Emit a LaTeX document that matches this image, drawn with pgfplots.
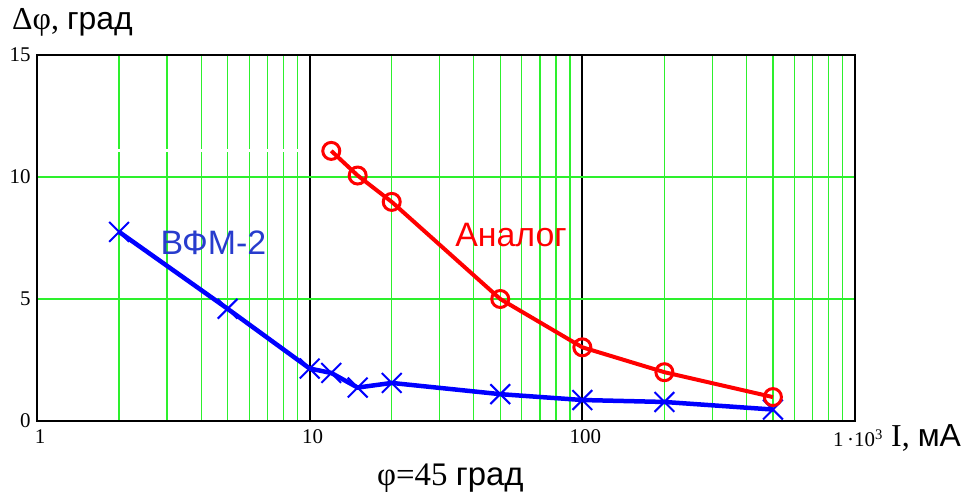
\documentclass[border=0pt]{standalone}
\usepackage{fontspec}
\setmainfont{Liberation Serif}
\newfontfamily\arial{Liberation Sans}
\usepackage{pgfplots}
\pgfplotsset{compat=1.18}
\definecolor{gridgreen}{RGB}{45,240,45}
\definecolor{labblue}{RGB}{40,60,205}
\newcommand{\tf}{\fontsize{21}{23}\selectfont}

\begin{document}
\begin{tikzpicture}
\path[use as bounding box] (0,0) rectangle (969bp,499bp);
\begin{axis}[
  at={(37bp,78bp)}, anchor=south west,
  scale only axis, width=818bp, height=366bp,
  xmode=log, log basis x=10,
  xmin=1, xmax=1000, ymin=0, ymax=15,
  xtick={1,10,100,1000},
  xticklabels={{\tf 1},{\tf 10},{\tf 100},{\tf 1\,·10\textsuperscript{3}}},
  minor xtick={2,3,4,5,6,7,8,9,20,30,40,50,60,70,80,90,200,300,400,500,600,700,800,900},
  ytick={0,5,10,15},
  yticklabels={{\tf 0},{\tf 5},{\tf 10},{\tf 15}},
  xmajorgrids, xminorgrids, ymajorgrids,
  major x grid style={black, line width=1.8bp},
  minor x grid style={gridgreen, line width=1.3bp},
  major y grid style={gridgreen, line width=1.3bp},
  major tick length=0pt, minor tick length=0pt,
  axis line style={line width=2.5bp},
  xticklabel style={yshift=-5bp, xshift=3bp},
  yticklabel style={xshift=-3bp},
]
% white stroke across the grid, as in the original
\addplot[white, line width=3bp, forget plot] coordinates {(1.97,11.1) (9.85,11.1)};

\addplot[blue, line width=4.5bp, mark=x, mark size=14bp,
  mark options={line width=2bp, solid}]
  coordinates {(2,7.75) (5,4.6) (10,2.15) (12,1.97) (15,1.37) (20,1.56)
               (50,1.1) (100,0.86) (200,0.78) (500,0.47)};

\addplot[red, line width=4bp, mark=o, mark size=8.5bp,
  mark options={line width=3bp, solid, fill=none}]
  coordinates {(12,11.07) (15,10.06) (20,8.98) (50,5.0) (100,3.02) (200,2.0) (500,0.98)};

\node[font=\arial\fontsize{34}{36}\selectfont, text=labblue] at (axis cs:4.44,7.3) {ВФМ-2};
\node[font=\arial\fontsize{34}{36}\selectfont, text=red] at (axis cs:54.8,7.62) {Аналог};
\end{axis}

\node[anchor=base west, inner sep=0pt, font=\fontsize{32}{36}\selectfont] at (12bp,469bp) {Δφ, {\arial град}};
\node[anchor=base west, inner sep=0pt, font=\fontsize{32}{36}\selectfont] at (891bp,52bp) {I, {\arial мА}};
\node[anchor=base west, inner sep=0pt, font=\fontsize{33}{36}\selectfont] at (377bp,14bp) {φ=45 {\arial град}};
\end{tikzpicture}
\end{document}
